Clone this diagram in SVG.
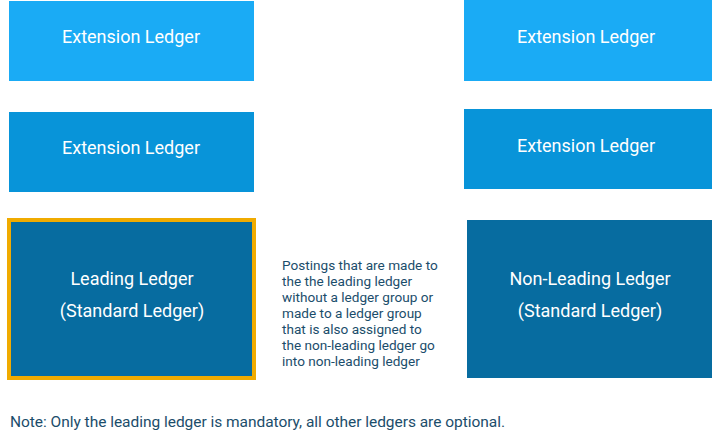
<svg xmlns="http://www.w3.org/2000/svg" width="712" height="441" viewBox="0 0 712 441">
<style>
.t{font-family:Roboto,"Liberation Sans",sans-serif;fill:#ffffff;text-anchor:middle;font-size:18px}
.m{font-family:Roboto,"Liberation Sans",sans-serif;fill:#1b4d6b;font-size:13.6px}
.l1{fill:#1aabf5}
.l2{fill:#0894d9}
.d{fill:#076ca0}
</style>
<rect width="712" height="441" fill="#ffffff"/>
<g id="connectors"></g>
<g id="ext-left-1"><rect class="l1" x="9" y="1" width="245" height="80"/><text class="t" x="131" y="43">Extension Ledger</text></g>
<g id="ext-left-2"><rect class="l2" x="9" y="112" width="245" height="80"/><text class="t" x="131" y="154">Extension Ledger</text></g>
<g id="ext-right-1"><rect class="l1" x="464" y="0" width="248" height="81"/><text class="t" x="586" y="43">Extension Ledger</text></g>
<g id="ext-right-2"><rect class="l2" x="464" y="109" width="248" height="80"/><text class="t" x="586" y="152">Extension Ledger</text></g>
<g id="leading"><rect class="d" x="9" y="220" width="245" height="158" stroke="#f0ab00" stroke-width="4"/><text class="t" x="132" y="285">Leading Ledger</text><text class="t" x="132" y="317">(Standard Ledger)</text></g>
<g id="non-leading"><rect class="d" x="467" y="220" width="245" height="158"/><text class="t" x="590" y="285">Non-Leading Ledger</text><text class="t" x="590" y="317">(Standard Ledger)</text></g>
<g id="posting-note"><text class="m" x="282"><tspan x="282" y="270">Postings that are made to</tspan><tspan x="282" y="286">the the leading ledger</tspan><tspan x="282" y="302">without a ledger group or</tspan><tspan x="282" y="318">made to a ledger group</tspan><tspan x="282" y="334">that is also assigned to</tspan><tspan x="282" y="350">the non-leading ledger go</tspan><tspan x="282" y="366">into non-leading ledger</tspan></text></g>
<text class="m" x="10" y="427" style="font-size:15.5px" textLength="495" lengthAdjust="spacing">Note: Only the leading ledger is mandatory, all other ledgers are optional.</text>
</svg>
